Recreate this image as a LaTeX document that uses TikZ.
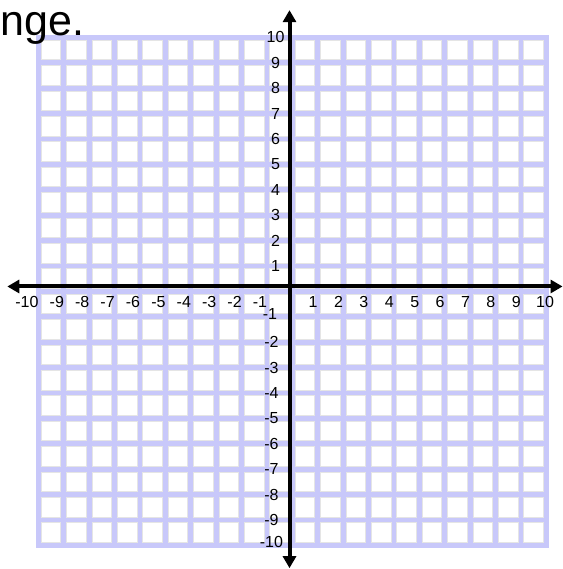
\documentclass[tikz,border=0pt]{standalone}
\usepackage{fontspec}
\setmainfont{Liberation Sans}
\usetikzlibrary{arrows.meta}
\definecolor{gridlav}{RGB}{200,200,250}
\tikzset{every picture/.style={>=Triangle, semithick}}
\tikzset{grid back/.style={fill=gridlav}}
\tikzset{cell/.style={fill=white, draw=black!10, line width=0.7pt}}
\tikzset{axis line/.style={line width=4pt,
    {Triangle[length=12pt,width=13pt]}-{Triangle[length=12pt,width=13pt]}}}
\tikzset{tick label/.style={inner sep=0pt, font=\fontsize{16}{16}\selectfont}}
\tikzset{title text/.style={inner sep=0pt, font=\fontsize{43}{43}\selectfont}}

\begin{document}
\begin{tikzpicture}[x=25.4pt, y=25.4pt]
	\useasboundingbox (-11.508,-10.933) rectangle (10.657,11.469);
	% grid
	\fill[grid back] (-10.1,-10.1) rectangle (10.1,10.1);
	\foreach \i in {-10,...,9}
		\foreach \j in {-10,...,9}
			\draw[cell] (\i+0.115,\j+0.115) rectangle (\i+0.885,\j+0.885);
	% axes
	\coordinate (xleft) at (-11.22,0.19);
	\coordinate (xright) at (10.64,0.19);
	\coordinate (ytop) at (-0.11,11.07);
	\coordinate (ybot) at (-0.11,-10.9);
	\draw[axis line] (xleft) -- (xright);
	\draw[axis line] (ybot) -- (ytop);
	% labels
	\foreach \i in {-10,...,-1}
		\node[tick label, anchor=east] (xn\i) at (\i+0.02,-0.42) {\i};
	\foreach \i in {1,...,10}{
		\pgfmathsetmacro\dx{\i==10 ? -0.05 : -0.18}
		\node[tick label] (xp\i) at (\i+\dx,-0.42) {\i};
	}
	\foreach \i in {1,...,10}
		\node[tick label] (yp\i) at (-0.66,\i) {\i};
	\foreach \i in {-9,...,-2}
		\node[tick label] (yn\i) at (-0.82,\i) {\i};
	\node[tick label] (yn-1) at (-0.88,-0.9) {-1};
	\node[tick label] (yn-10) at (-0.82,-9.87) {-10};
	\node[title text, anchor=base west] (title) at (-11.508,10.09) {nge.};
\end{tikzpicture}
\end{document}
